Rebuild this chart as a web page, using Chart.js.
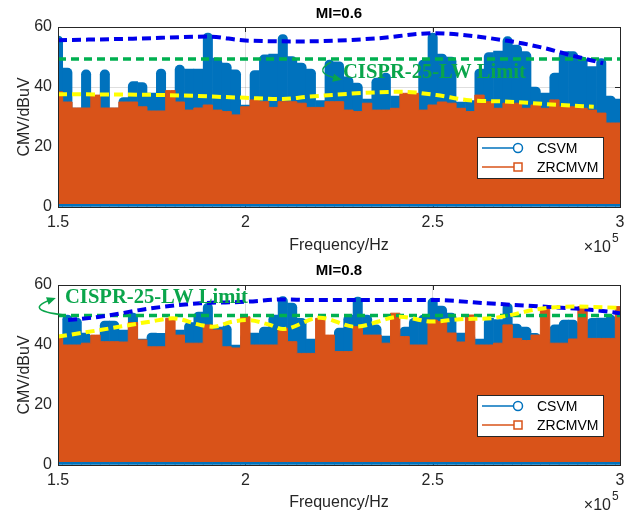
<!DOCTYPE html>
<html>
<head>
<meta charset="utf-8">
<script src="https://cdn.jsdelivr.net/npm/chart.js@4.4.1/dist/chart.umd.min.js"></script>
<style>
  body { margin: 0; background: #fff; }
  .panel { position: absolute; left: 0; width: 634px; height: 257px; }
</style>
</head>
<body>
<div class="panel" style="top:0"><canvas id="chartTop" width="634" height="257"></canvas></div>
<div class="panel" style="top:257px"><canvas id="chartBottom" width="634" height="257"></canvas></div>
<script>
// frequency in units of 1e5 Hz
const freq = [1.5,1.525,1.55,1.575,1.6,1.625,1.65,1.675,1.7,1.725,1.75,1.775,1.8,1.825,1.85,1.875,1.9,1.925,1.95,1.975,
  2.0,2.025,2.05,2.075,2.1,2.125,2.15,2.175,2.2,2.225,2.25,2.275,2.3,2.325,2.35,2.375,2.4,2.425,2.45,2.475,
  2.5,2.525,2.55,2.575,2.6,2.625,2.65,2.675,2.7,2.725,2.75,2.775,2.8,2.825,2.85,2.875,2.9,2.925,2.95,2.975,3.0];

// MI = 0.6
const csvm06 = [57,46.3,33,45.7,33,45.7,33,36.5,41.8,41.5,38,46,35,47.3,46,46,58,49.6,48,45.7,
  34,45.5,50.7,51,57.5,50.1,48,46,35.5,49,48.4,43.4,41.3,36,43,44.6,37,37.3,37.5,49,
  58,51,50,35,35.5,46,51.5,52,56.8,54,51.8,40,38,44.6,51.8,51.8,50,46.8,49.5,37,36];
const zrcmvm06 = [38.4,35,33,33,37.3,33,33,35,35,33.4,32,32,38.8,35,32.3,33,34,32.3,31.8,30.7,
  33.4,35.7,35.1,33.2,35.1,35.1,34.6,33.2,33.2,35.1,35.1,32.3,31.8,34.6,32.3,32.3,32.9,37.9,37.9,32.3,
  34,35,34.6,32.9,31.8,37.3,35.1,32.9,34.6,34.6,32.9,34,32.9,35.7,33.4,33.4,32.9,32.3,31.3,28,28];
const peakEnvX06 = [1.5,1.7,1.9,2.0,2.15,2.35,2.5,2.7,2.8,2.85,2.955];
const peakEnvY06 = [55.6,56.1,56.8,55.5,55.2,56.2,57.9,55.4,52.9,51.2,47.9];
const zrcEnvX06 = [1.5,1.79,2.0,2.1,2.17,2.42,2.51,2.59,2.705,2.84,2.93];
const zrcEnvY06 = [37.6,37.3,36.4,36,36.8,38.4,37.3,35.7,35.1,34,33.4];
const limitX = [1.5,3.0];
const limit06 = [49.3,49.3];

// MI = 0.8
const csvm08 = [38,50,49,44,42,48,48,45,50.6,42,44,43.9,46,45,47.5,51,53.9,46,46.7,40,
  44,44,46,50,56.1,54,48.9,42,42,43,45.6,50,56,50,46.7,43,44,46,48.9,50,
  55.6,53,50.6,44,44,42,48.9,48.5,53.9,47,46,43.9,42,46.7,48.3,48.3,46,48.9,49,50,47];
const zrcmvm08 = [42.8,40,40,40.6,43.3,41.1,41.1,41,47.5,41.7,39.4,39.4,48.9,43.3,40.6,40.6,46.7,45,39.4,39,
  49.4,40,40,40,45.6,41.1,37.2,37.2,48.9,43.3,37.8,37.8,46.1,43.3,43.3,40.6,50.6,42.8,40,40,
  48.3,47.8,44,41,50,40,40,40.6,46.7,42.2,41.5,43.3,52.2,40.6,40.6,42,52.8,42.2,42.2,42.2,52.8];
const peakEnvX08 = [1.527,1.612,1.746,1.879,2.0,2.1,2.173,2.5,2.645,2.794,2.928,3.0];
const peakEnvY08 = [48.3,49.4,52.2,53.9,54.4,55.2,55,55,53.9,52.8,51.7,50.6];
const zrcEnvX08 = [1.5,1.612,1.746,1.807,1.879,1.914,1.967,2.004,2.066,2.1,2.199,2.293,2.413,2.5,2.573,2.661,2.794,2.885,3.0];
const zrcEnvY08 = [42.8,45,47.8,48.9,46.7,46.1,47.8,48.3,46.7,45.3,49.1,46.1,49.4,47.8,48.6,49,52.2,52.8,52.4];
const limit08 = [49.8,49.8];

const seriesNames = ['CSVM', 'ZRCMVM'];
const limitLabel = 'CISPR-25-LW Limit';

const BLUE = 'rgb(0,114,189)';
const ORANGE = 'rgb(217,83,25)';
const DARKBLUE = 'rgb(0,0,235)';
const YELLOW = 'rgb(255,255,0)';
const GREEN = 'rgb(0,176,80)';
const TEXT = '#262626';
const SANS = "'Liberation Sans', Arial, sans-serif";

function pts(xs, ys) {
  return xs.map((x, i) => ({ x: x, y: ys[i] }));
}

// round only the outer top corners of each blue column group
function columnRadius(c) {
  const d = c.dataset && c.dataset.data;
  const i = c.dataIndex;
  if (!d || i === undefined) return 0;
  const y = d[i].y;
  const l = i > 0 ? d[i - 1].y : -1;
  const r = i < d.length - 1 ? d[i + 1].y : -1;
  return { topLeft: l < y - 0.5 ? 5 : 0, topRight: r < y - 0.5 ? 5 : 0, bottomLeft: 0, bottomRight: 0 };
}

// axes decoration, legend, labels
const decorPlugin = {
  id: 'decor',
  beforeDatasetsDraw(chart) {
    const { ctx, chartArea: a, scales } = chart;
    ctx.save();
    ctx.strokeStyle = TEXT;
    ctx.lineWidth = 1;
    [2, 2.5].forEach(v => {
      const x = Math.round(scales.x.getPixelForValue(v)) + 0.5;
      ctx.beginPath();
      ctx.moveTo(x, a.bottom); ctx.lineTo(x, a.bottom - 5);
      ctx.moveTo(x, a.top); ctx.lineTo(x, a.top + 5);
      ctx.stroke();
    });
    [20, 40].forEach(v => {
      const y = Math.round(scales.y.getPixelForValue(v)) + 0.5;
      ctx.beginPath();
      ctx.moveTo(a.left, y); ctx.lineTo(a.left + 5, y);
      ctx.moveTo(a.right, y); ctx.lineTo(a.right - 5, y);
      ctx.stroke();
    });
    ctx.restore();
  },
  afterDraw(chart, args, o) {
    const { ctx, chartArea: a } = chart;
    ctx.save();
    // box
    ctx.strokeStyle = TEXT;
    ctx.lineWidth = 1;
    ctx.strokeRect(Math.round(a.left) + 0.5, Math.round(a.top) + 0.5,
      Math.round(a.right - a.left), Math.round(a.bottom - a.top));

    // title
    ctx.fillStyle = '#000';
    ctx.font = 'bold 15px ' + SANS;
    ctx.textAlign = 'center';
    ctx.textBaseline = 'middle';
    ctx.fillText(o.title, (a.left + a.right) / 2, 14);

    // x10^5
    ctx.fillStyle = TEXT;
    ctx.font = '16px ' + SANS;
    ctx.textAlign = 'right';
    ctx.fillText('\u00d710', 611, a.bottom + 41);
    ctx.font = '12px ' + SANS;
    ctx.textAlign = 'left';
    ctx.fillText('5', 612, a.bottom + 32);

    // legend
    const L = o.legend;
    ctx.fillStyle = '#fff';
    ctx.fillRect(L.x, L.y, 126, 41);
    ctx.strokeStyle = TEXT;
    ctx.strokeRect(L.x + 0.5, L.y + 0.5, 126, 41);
    const rows = [L.y + 11, L.y + 30];
    ctx.lineWidth = 1.5;
    ctx.strokeStyle = BLUE;
    ctx.beginPath(); ctx.moveTo(L.x + 5, rows[0]); ctx.lineTo(L.x + 37, rows[0]); ctx.stroke();
    ctx.beginPath(); ctx.arc(L.x + 41, rows[0], 4.5, 0, Math.PI * 2); ctx.stroke();
    ctx.strokeStyle = ORANGE;
    ctx.beginPath(); ctx.moveTo(L.x + 5, rows[1]); ctx.lineTo(L.x + 37, rows[1]); ctx.stroke();
    ctx.strokeRect(L.x + 37, rows[1] - 4, 8, 8);
    ctx.fillStyle = '#000';
    ctx.font = '14px ' + SANS;
    ctx.textAlign = 'left';
    ctx.textBaseline = 'middle';
    ctx.fillText(seriesNames[0], L.x + 60, rows[0] + 1);
    ctx.fillText(seriesNames[1], L.x + 60, rows[1] + 1);

    // limit annotation
    const N = o.note;
    ctx.fillStyle = 'rgb(10,165,75)';
    ctx.strokeStyle = 'rgb(10,165,75)';
    ctx.font = 'bold 20.6px "Liberation Serif", "Times New Roman", serif';
    ctx.textBaseline = 'alphabetic';
    ctx.fillText(limitLabel, N.tx, N.ty);
    ctx.lineWidth = 1.5;
    ctx.beginPath();
    ctx.moveTo(N.s[0], N.s[1]);
    ctx.quadraticCurveTo(N.c[0], N.c[1], N.e[0], N.e[1]);
    ctx.stroke();
    const ang = Math.atan2(N.e[1] - N.c[1], N.e[0] - N.c[0]);
    ctx.beginPath();
    ctx.moveTo(N.e[0] + 3 * Math.cos(ang), N.e[1] + 3 * Math.sin(ang));
    ctx.lineTo(N.e[0] - 6 * Math.cos(ang) - 4 * Math.sin(ang), N.e[1] - 6 * Math.sin(ang) + 4 * Math.cos(ang));
    ctx.lineTo(N.e[0] - 6 * Math.cos(ang) + 4 * Math.sin(ang), N.e[1] - 6 * Math.sin(ang) - 4 * Math.cos(ang));
    ctx.closePath();
    ctx.fill();
    ctx.restore();
  }
};

function makeChart(id, o) {
  const font = { family: SANS, size: 16 };
  return new Chart(document.getElementById(id), {
    type: 'line',
    data: {
      datasets: [
        {
          type: 'bar',
          label: seriesNames[0],
          data: pts(freq, o.csvm),
          backgroundColor: BLUE,
          borderWidth: 0,
          borderRadius: columnRadius,
          borderSkipped: 'start',
          barPercentage: 1,
          categoryPercentage: 1,
          order: 4
        },
        {
          label: seriesNames[1],
          data: pts(freq, o.zrc),
          stepped: 'middle',
          borderColor: ORANGE,
          backgroundColor: ORANGE,
          borderWidth: 1,
          fill: { value: 1 },
          pointRadius: 0,
          order: 3
        },
        {
          label: 'limit',
          data: pts(limitX, o.limit),
          borderColor: GREEN,
          borderWidth: 3.5,
          borderDash: [8, 5],
          pointRadius: 0,
          fill: false,
          order: 2
        },
        {
          label: 'csvm envelope',
          data: pts(o.peakX, o.peakY),
          borderColor: DARKBLUE,
          borderWidth: 4,
          borderDash: [9, 5],
          cubicInterpolationMode: 'monotone',
          pointRadius: 0,
          fill: false,
          order: 1
        },
        {
          label: 'zrcmvm envelope',
          data: pts(o.zrcX, o.zrcY),
          borderColor: YELLOW,
          borderWidth: 4,
          borderDash: [9, 5],
          cubicInterpolationMode: 'monotone',
          pointRadius: 0,
          fill: false,
          order: 0
        }
      ]
    },
    options: {
      responsive: false,
      animation: false,
      layout: { padding: { top: o.padTop, right: 14, left: 0, bottom: 0 } },
      plugins: {
        legend: { display: false },
        tooltip: { enabled: false },
        decor: { title: o.title, legend: o.legend, note: o.note }
      },
      scales: {
        x: {
          type: 'linear',
          min: 1.5,
          max: 3,
          offset: false,
          afterFit: s => { s.height = o.xHeight; },
          ticks: {
            stepSize: 0.5, padding: 6, color: TEXT, font: font, maxRotation: 0, autoSkip: false,
            callback: v => String(+v.toFixed(2))
          },
          grid: { color: 'rgba(0,0,0,0.13)', drawTicks: false, offset: false },
          border: { display: false },
          title: { display: true, text: 'Frequency/Hz', color: TEXT, font: font, padding: { top: 0, bottom: 2 } }
        },
        y: {
          min: 0,
          max: 60,
          afterFit: s => { s.width = 58; },
          ticks: { stepSize: 20, padding: 6, color: TEXT, font: font },
          grid: { color: 'rgba(0,0,0,0.13)', drawTicks: false },
          border: { display: false },
          title: { display: true, text: 'CMV/dBuV', color: TEXT, font: font, padding: { top: 15, bottom: 0 } }
        }
      }
    },
    plugins: [decorPlugin]
  });
}

makeChart('chartTop', {
  csvm: csvm06, zrc: zrcmvm06, limit: limit06,
  peakX: peakEnvX06, peakY: peakEnvY06, zrcX: zrcEnvX06, zrcY: zrcEnvY06,
  padTop: 27, xHeight: 50, title: 'MI=0.6',
  legend: { x: 477, y: 137 },
  note: { tx: 343, ty: 78, s: [331, 62], c: [311, 73], e: [339, 79] }
});

makeChart('chartBottom', {
  csvm: csvm08, zrc: zrcmvm08, limit: limit08,
  peakX: peakEnvX08, peakY: peakEnvY08, zrcX: zrcEnvX08, zrcY: zrcEnvY08,
  padTop: 28, xHeight: 49, title: 'MI=0.8',
  legend: { x: 477, y: 138 },
  note: { tx: 65, ty: 46, s: [64, 58], c: [21, 53], e: [53, 42] }
});
</script>
</body>
</html>
